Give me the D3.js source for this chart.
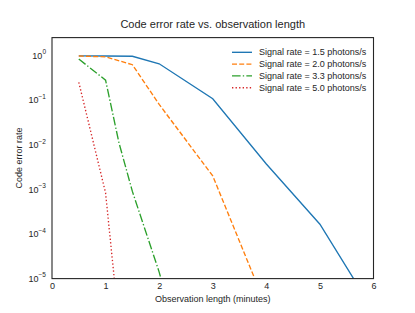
<!DOCTYPE html>
<html><head><meta charset="utf-8">
<script src="https://cdn.jsdelivr.net/npm/d3@7"></script>
<style>body{margin:0;background:#fff}svg{display:block}text{font-family:"Liberation Sans",Arial,sans-serif;fill:#262626}</style>
</head><body>
<script>
const seriesNames = ["Signal rate = 1.5 photons/s","Signal rate = 2.0 photons/s","Signal rate = 3.3 photons/s","Signal rate = 5.0 photons/s"];
const x15 = [0.5, 1.0, 1.5, 2.0, 3.0, 4.0, 5.0, 6.0];
const y15 = [0.98, 0.97, 0.96, 0.65, 0.107, 0.0037, 0.000165, 0.0000019];
const x20 = [0.5, 1.0, 1.5, 2.0, 3.0, 4.0];
const y20 = [0.97, 0.93, 0.62, 0.08, 0.002, 0.0000023];
const x33 = [0.5, 1.0, 1.25, 1.5, 2.0, 2.5];
const y33 = [0.83, 0.28, 0.011, 0.0009, 0.000014, 0.0000001];
const x50 = [0.5, 1.0, 1.5];
const y50 = [0.25, 0.00083, 0.000000001];
const xTicks = [0,1,2,3,4,5,6];
const yTickExps = [0,-1,-2,-3,-4,-5];

const W=415,H=313;
const m={l:52,r:373.5,t:37.6,b:278.6};
const colors=["#1f77b4","#ff7f0e","#2ca02c","#d62728"];
const dashes=[null,"5,2.2","8.6,2.2,1.35,2.2","1.35,2.2"];
const xs=[x15,x20,x33,x50], ys=[y15,y20,y33,y50];

const svg=d3.select("body").append("svg").attr("width",W).attr("height",H);
const x=d3.scaleLinear().domain([0,6]).range([m.l,m.r]);
const y=d3.scaleLog().domain([1e-5,Math.pow(10,0.4)]).range([m.b,m.t]);

svg.append("clipPath").attr("id","c").append("rect")
  .attr("x",m.l).attr("y",m.t).attr("width",m.r-m.l).attr("height",m.b-m.t);

const line=d3.line().x(d=>x(d[0])).y(d=>y(d[1]));
const g=svg.append("g").attr("clip-path","url(#c)");
xs.forEach((xa,i)=>{
  g.append("path").datum(xa.map((v,j)=>[v,ys[i][j]]))
   .attr("d",line).attr("fill","none").attr("stroke",colors[i])
   .attr("stroke-width",1.35).attr("stroke-dasharray",dashes[i]);
});

// frame
svg.append("rect").attr("x",m.l).attr("y",m.t).attr("width",m.r-m.l).attr("height",m.b-m.t)
  .attr("fill","none").attr("stroke","#262626").attr("stroke-width",1.1);

// x axis
const xa=svg.append("g").attr("transform",`translate(0,${m.b})`)
  .call(d3.axisBottom(x).tickValues(xTicks).tickSize(0).tickPadding(0).tickFormat(d3.format("d")));
xa.select(".domain").remove();
xa.selectAll("text").attr("font-size",9).attr("dy",null).attr("y",10);

// y axis
const ya=svg.append("g").attr("transform",`translate(${m.l},0)`)
  .call(d3.axisLeft(y).tickValues(yTickExps.map(e=>Math.pow(10,e))).tickSize(0).tickPadding(6).tickFormat(""));
ya.select(".domain").remove();
ya.selectAll(".tick").each(function(d,i){
  const t=d3.select(this).select("text").attr("font-size",9).attr("dy","0.32em").attr("x",-6);
  const e=yTickExps[i];
  t.append("tspan").text("10");
  t.append("tspan").attr("font-size",6.5).attr("dy","-0.7em").text(e===0?"0":"\u2212"+(-e));
});

// labels
svg.append("text").attr("x",(m.l+m.r)/2).attr("y",28).attr("text-anchor","middle").attr("font-size",11)
  .text("Code error rate vs. observation length");
svg.append("text").attr("x",(m.l+m.r)/2).attr("y",302).attr("text-anchor","middle").attr("font-size",9)
  .text("Observation length (minutes)");
svg.append("text").attr("transform",`translate(22,${(m.t+m.b)/2}) rotate(-90)`).attr("text-anchor","middle").attr("font-size",9)
  .text("Code error rate");

// legend
const lg=svg.append("g");
seriesNames.forEach((n,i)=>{
  const yy=52.3+i*11.8;
  lg.append("line").attr("x1",232).attr("x2",252).attr("y1",yy).attr("y2",yy)
    .attr("stroke",colors[i]).attr("stroke-width",1.35).attr("stroke-dasharray",dashes[i]);
  lg.append("text").attr("x",259).attr("y",yy).attr("dy","0.35em").attr("font-size",9).text(n);
});
</script>
</body></html>
